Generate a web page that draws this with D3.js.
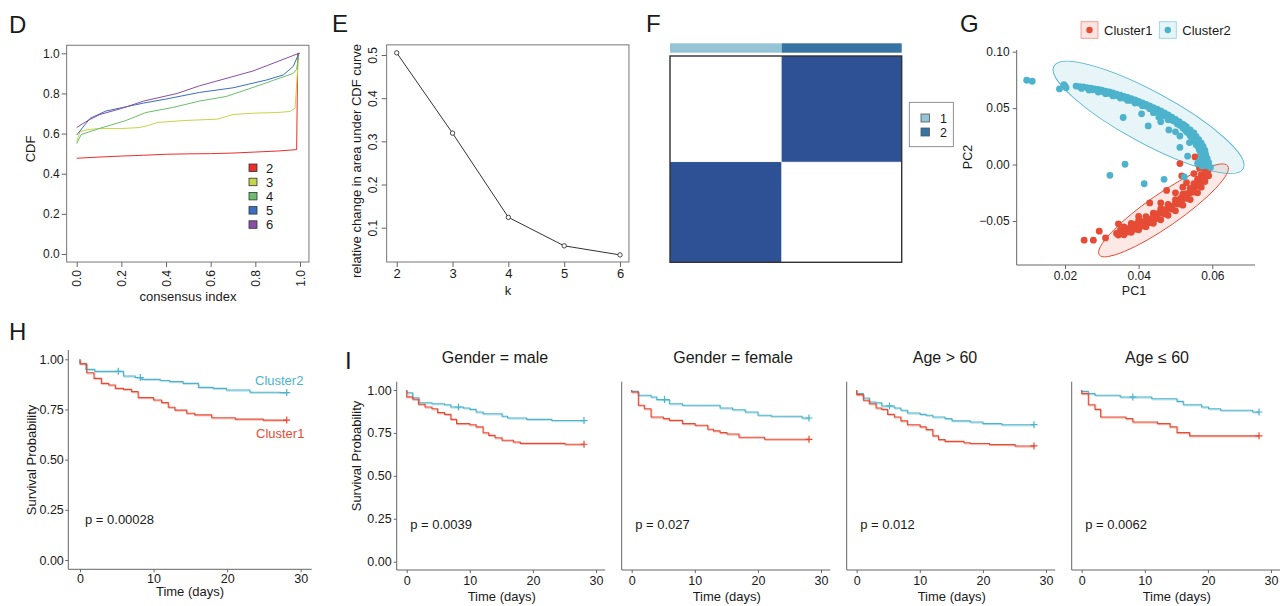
<!DOCTYPE html>
<html>
<head>
<meta charset="utf-8">
<script src="https://cdn.jsdelivr.net/npm/d3@7/dist/d3.min.js"></script>
<style>
  body { margin: 0; background: #fff; }
  svg { display: block; font-family: "Liberation Sans", Arial, Helvetica, sans-serif; }
</style>
</head>
<body>
<svg id="fig" width="1280" height="606"></svg>
<script>
// --- D: consensus CDF ---
const CDF_K = ['2', '3', '4', '5', '6'];
const CDF_COLORS = ['#EE2C2C', '#C5D548', '#6BBF6A', '#3B6DC0', '#8A4EA6'];
const CDF_2 = [[0, 0.477], [0.1, 0.483], [0.2, 0.488], [0.3, 0.492], [0.4, 0.497], [0.5, 0.499], [0.6, 0.5], [0.7, 0.503], [0.8, 0.508], [0.9, 0.513], [0.985, 0.52], [0.99, 1.0], [1.0, 1.0]];
const CDF_3 = [[0, 0.56], [0.015, 0.61], [0.05, 0.62], [0.1, 0.625], [0.2, 0.625], [0.28, 0.63], [0.32, 0.64], [0.36, 0.655], [0.48, 0.665], [0.63, 0.672], [0.7, 0.695], [0.8, 0.702], [0.9, 0.705], [0.955, 0.71], [0.978, 0.726], [0.99, 0.93], [0.995, 1.0]];
const CDF_4 = [[0, 0.55], [0.02, 0.595], [0.1, 0.625], [0.22, 0.665], [0.31, 0.705], [0.43, 0.73], [0.55, 0.762], [0.67, 0.785], [0.79, 0.83], [0.88, 0.865], [0.97, 0.9], [0.985, 0.92], [0.995, 1.0]];
const CDF_5 = [[0, 0.593], [0.06, 0.676], [0.13, 0.712], [0.3, 0.752], [0.4, 0.772], [0.55, 0.805], [0.7, 0.828], [0.85, 0.867], [0.925, 0.892], [0.97, 0.935], [0.995, 1.0]];
const CDF_6 = [[0, 0.63], [0.05, 0.665], [0.104, 0.695], [0.2, 0.725], [0.3, 0.762], [0.45, 0.8], [0.55, 0.838], [0.79, 0.912], [0.995, 1.0]];
const CDF_TICKS = [0, 0.2, 0.4, 0.6, 0.8, 1.0];

// --- E: delta area ---
const DELTA_K = [2, 3, 4, 5, 6];
const DELTA_AREA = [0.505, 0.319, 0.124, 0.058, 0.037];
const DELTA_YTICKS = [0.1, 0.2, 0.3, 0.4, 0.5];

// --- F: consensus matrix ---
const F_CLUSTERS = ['1', '2'];
const F_CLUSTER_COLORS = ['#94C4D6', '#3473A2'];
const F_COL_FRAC = [0.482, 0.518];
const F_ROW_FRAC = [0.514, 0.486];
const F_MATRIX = [[0, 1], [1, 0]];

// --- G: PCA ---
const G_GROUPS = ['Cluster1', 'Cluster2'];
const G_C1 = [
  [0.0252, -0.0670], [0.0277, -0.0670], [0.0293, -0.0590], [0.0310, -0.0650], [0.0512, 0.0009], [0.0553, 0.0068],
  [0.0517, -0.0101], [0.0476, -0.0229], [0.0400, -0.0460], [0.0345, -0.0525],
  [0.0340, -0.0610], [0.0350, -0.0600], [0.0360, -0.0590], [0.0370, -0.0580], [0.0380, -0.0565], [0.0390, -0.0550],
  [0.0400, -0.0538], [0.0410, -0.0522], [0.0420, -0.0505], [0.0430, -0.0490], [0.0440, -0.0470], [0.0450, -0.0450],
  [0.0460, -0.0430], [0.0470, -0.0410], [0.0480, -0.0390], [0.0490, -0.0370], [0.0500, -0.0350], [0.0510, -0.0330],
  [0.0520, -0.0302], [0.0530, -0.0278], [0.0540, -0.0250], [0.0550, -0.0220], [0.0560, -0.0188], [0.0570, -0.0150],
  [0.0575, -0.0120], [0.0580, -0.0090], [0.0585, -0.0060], [0.0590, -0.0030],
  [0.0360, -0.0552], [0.0380, -0.0522], [0.0400, -0.0495], [0.0420, -0.0462], [0.0440, -0.0430], [0.0460, -0.0392],
  [0.0480, -0.0352], [0.0500, -0.0310], [0.0520, -0.0262], [0.0540, -0.0212], [0.0550, -0.0170], [0.0560, -0.0130],
  [0.0570, -0.0090], [0.0580, -0.0050], [0.0565, -0.0030],
  [0.0360, -0.0622], [0.0380, -0.0600], [0.0400, -0.0578], [0.0420, -0.0550], [0.0440, -0.0520], [0.0460, -0.0490],
  [0.0480, -0.0450], [0.0500, -0.0410], [0.0520, -0.0360], [0.0540, -0.0310], [0.0560, -0.0250], [0.0570, -0.0200],
  [0.0580, -0.0150], [0.0590, -0.0100],
  [0.0350, -0.0580], [0.0365, -0.0565], [0.0380, -0.0545], [0.0395, -0.0525], [0.0410, -0.0505], [0.0425, -0.0482],
  [0.0440, -0.0455], [0.0455, -0.0430], [0.0470, -0.0400], [0.0485, -0.0372], [0.0500, -0.0335], [0.0515, -0.0298],
  [0.0530, -0.0258], [0.0545, -0.0218], [0.0560, -0.0170], [0.0572, -0.0125], [0.0582, -0.0075],
  [0.0345, -0.0625], [0.0370, -0.0598], [0.0390, -0.0572], [0.0410, -0.0545], [0.0430, -0.0515], [0.0450, -0.0478],
  [0.0470, -0.0438], [0.0490, -0.0395], [0.0510, -0.0350], [0.0530, -0.0300], [0.0550, -0.0245], [0.0565, -0.0190],
  [0.0578, -0.0130], [0.0588, -0.0070],
  [0.0430, -0.0340], [0.0460, -0.0340], [0.0500, -0.0250], [0.0530, -0.0160], [0.0550, -0.0080], [0.0520, -0.0200]
];
const G_C2 = [
  [0.0096, 0.0747], [0.0111, 0.0738], [0.0185, 0.0670], [0.0197, 0.0708], [0.0203, 0.0680], [0.0200, 0.0695],
  [0.0230, 0.0695], [0.0240, 0.0690], [0.0250, 0.0688], [0.0260, 0.0682], [0.0270, 0.0676], [0.0280, 0.0670],
  [0.0290, 0.0665], [0.0300, 0.0660], [0.0310, 0.0651], [0.0320, 0.0643], [0.0330, 0.0634], [0.0340, 0.0625],
  [0.0350, 0.0615], [0.0360, 0.0605], [0.0370, 0.0595], [0.0380, 0.0585], [0.0390, 0.0572], [0.0400, 0.0560],
  [0.0410, 0.0547], [0.0420, 0.0533], [0.0430, 0.0520], [0.0440, 0.0505], [0.0450, 0.0490], [0.0460, 0.0475],
  [0.0470, 0.0458], [0.0480, 0.0440], [0.0490, 0.0421], [0.0500, 0.0400], [0.0510, 0.0380], [0.0520, 0.0358],
  [0.0530, 0.0333], [0.0540, 0.0308], [0.0550, 0.0280], [0.0556, 0.0250], [0.0563, 0.0220], [0.0570, 0.0190],
  [0.0575, 0.0160], [0.0580, 0.0125], [0.0582, 0.0090], [0.0586, 0.0055], [0.0590, 0.0020], [0.0585, -0.0010],
  [0.0265, 0.0660], [0.0290, 0.0642], [0.0310, 0.0628], [0.0330, 0.0608], [0.0350, 0.0590], [0.0370, 0.0568],
  [0.0390, 0.0545], [0.0410, 0.0522], [0.0430, 0.0495], [0.0450, 0.0465], [0.0470, 0.0432], [0.0490, 0.0395],
  [0.0505, 0.0360], [0.0520, 0.0325], [0.0530, 0.0290], [0.0540, 0.0255], [0.0548, 0.0215], [0.0556, 0.0175],
  [0.0565, 0.0130], [0.0570, 0.0080], [0.0575, 0.0035], [0.0560, 0.0010], [0.0572, -0.0012],
  [0.0245, 0.0675], [0.0275, 0.0662], [0.0300, 0.0648], [0.0320, 0.0630], [0.0340, 0.0612], [0.0360, 0.0590],
  [0.0380, 0.0568], [0.0400, 0.0545], [0.0420, 0.0518], [0.0440, 0.0488], [0.0460, 0.0458], [0.0480, 0.0420],
  [0.0495, 0.0385], [0.0512, 0.0348], [0.0525, 0.0310], [0.0536, 0.0275], [0.0545, 0.0240], [0.0553, 0.0200],
  [0.0562, 0.0155], [0.0568, 0.0105], [0.0578, 0.0060], [0.0565, 0.0030], [0.0580, 0.0000],
  [0.0358, 0.0417], [0.0408, 0.0450], [0.0426, 0.0342], [0.0363, 0.0003], [0.0322, -0.0095], [0.0415, -0.0170],
  [0.0469, -0.0131], [0.0512, 0.0253], [0.0512, 0.0152], [0.0533, 0.0074], [0.0482, 0.0307], [0.0480, 0.0396],
  [0.0524, -0.0110], [0.0595, -0.0025], [0.0440, 0.0460], [0.0455, 0.0420], [0.0525, 0.0345], [0.0538, 0.0195],
  [0.0500, 0.0290], [0.0460, 0.0380]
];
// ellipse: ends of the long axis (PC1, PC2) and width / length ratio
const G_C1_ELLIPSE = [[0.0293, -0.0800], [0.0642, -0.0012]];
const G_C2_ELLIPSE = [[0.0170, 0.0872], [0.0684, -0.0036]];
const G_ELLIPSE_RATIO = [0.21, 0.24];
const G_XTICKS = [0.02, 0.04, 0.06];
const G_YTICKS = [-0.05, 0.00, 0.05, 0.10];

// --- H / I: Kaplan-Meier, [time, survival after that time] ---
const KM_XTICKS = [0, 10, 20, 30];
const KM_YTICKS = [0, 0.25, 0.5, 0.75, 1.0];
const KM_END = 28.1;
const H_C1 = [[0, 0.977], [0.9, 0.933], [1.9, 0.905], [2.9, 0.88], [3.9, 0.872], [4.8, 0.855], [5.9, 0.85], [7.0, 0.839], [7.9, 0.809], [10.0, 0.797], [11.1, 0.784], [12.0, 0.761], [12.9, 0.747], [14.5, 0.731], [15.6, 0.723], [17.9, 0.709], [21.1, 0.702], [24.9, 0.697]];
const H_C2 = [[0, 0.98], [0.8, 0.95], [2.0, 0.94], [5.9, 0.917], [7.5, 0.909], [8.4, 0.9], [10.9, 0.894], [12.2, 0.889], [14.0, 0.88], [16.1, 0.86], [18.1, 0.855], [19.9, 0.847], [23.1, 0.836], [27.2, 0.834]];
const H_C1_CENSOR = [28.1];
const H_C2_CENSOR = [5.2, 8.2, 28.1];
const H_P = 'p = 0.00028';

const I_TITLES = ['Gender = male', 'Gender = female', 'Age > 60', 'Age \u2264 60'];
const I_P = ['p = 0.0039', 'p = 0.027', 'p = 0.012', 'p = 0.0062'];
const I_C1 = [
  [[0, 0.96], [0.95, 0.946], [1.85, 0.917], [2.9, 0.901], [4.0, 0.891], [4.9, 0.868], [6.0, 0.858], [7.0, 0.829], [7.9, 0.804], [10.0, 0.798], [11.0, 0.785], [12.1, 0.751], [13.0, 0.736], [14.0, 0.722], [15.1, 0.707], [16.9, 0.697], [18.0, 0.689], [25.1, 0.684]],
  [[0, 0.988], [1.05, 0.911], [2.0, 0.891], [3.06, 0.843], [5.02, 0.833], [5.97, 0.823], [8.04, 0.804], [10.05, 0.795], [12.06, 0.771], [12.96, 0.762], [14.0, 0.752], [15.1, 0.744], [17.0, 0.725], [21.05, 0.713]],
  [[0, 0.973], [1.05, 0.94], [2.0, 0.92], [3.06, 0.895], [3.96, 0.887], [4.9, 0.858], [5.97, 0.843], [7.0, 0.82], [8.04, 0.798], [10.05, 0.785], [11.0, 0.769], [12.06, 0.733], [12.96, 0.711], [14.0, 0.701], [17.0, 0.693], [18.0, 0.688], [21.05, 0.682], [25.1, 0.674]],
  [[0, 0.979], [1.05, 0.914], [2.1, 0.887], [3.0, 0.843], [7.0, 0.833], [8.1, 0.814], [12.0, 0.804], [14.0, 0.785], [15.1, 0.752], [17.1, 0.733]]
];
const I_C2 = [
  [[0, 0.984], [0.95, 0.955], [1.95, 0.926], [4.0, 0.92], [6.0, 0.914], [7.0, 0.901], [9.0, 0.895], [10.0, 0.887], [11.0, 0.872], [12.1, 0.862], [15.1, 0.847], [16.0, 0.837], [19.0, 0.829], [23.0, 0.822]],
  [[0, 0.992], [1.05, 0.969], [3.06, 0.959], [3.96, 0.944], [5.97, 0.92], [8.04, 0.911], [14.0, 0.895], [16.0, 0.885], [18.0, 0.872], [20.0, 0.853], [22.1, 0.847], [27.0, 0.837]],
  [[0, 0.979], [1.05, 0.953], [2.0, 0.93], [3.06, 0.926], [3.96, 0.907], [5.97, 0.895], [7.0, 0.882], [8.04, 0.866], [10.05, 0.858], [11.0, 0.853], [12.06, 0.843], [14.0, 0.833], [15.1, 0.82], [18.0, 0.814], [20.0, 0.804], [23.0, 0.798]],
  [[0, 0.992], [1.05, 0.979], [2.1, 0.969], [6.1, 0.959], [11.1, 0.949], [15.1, 0.934], [16.1, 0.914], [19.0, 0.901], [20.1, 0.891], [22.0, 0.882], [27.1, 0.872]]
];
const I_C1_CENSOR = [[28.1], [28.1], [28.1], [28.1]];
const I_C2_CENSOR = [[8.2, 28.1], [5.2, 28.1], [5.2, 28.1], [8.1, 28.1]];

const C1 = '#E64B35';
const C2 = '#4DB3CC';
const INK = '#1a1a1a';
const AXIS = '#666';

const svg = d3.select('#fig');

// --- helpers ---

function text(g, x, y, s, size, opts = {}) {
  const t = g.append('text')
    .attr('x', x).attr('y', y)
    .attr('font-size', size)
    .attr('fill', opts.fill || INK)
    .attr('text-anchor', opts.anchor || 'start')
    .text(s);
  if (opts.rotate) t.attr('transform', `rotate(-90,${x},${y})`);
  return t;
}

function styleAxis(g, size) {
  g.select('.domain').remove();
  g.selectAll('.tick line').attr('stroke', AXIS);
  g.selectAll('.tick text').attr('fill', INK).attr('font-size', size).attr('font-family', null);
}

function panelLetter(x, y, s) {
  text(svg, x, y, s, 24);
}

function stepAt(steps, t) {
  let s = 1;
  steps.forEach(d => { if (d[0] <= t) s = d[1]; });
  return s;
}

function kmCurve(g, steps, censor, color, xs, ys) {
  const pts = [[0, 1]].concat(steps, [[KM_END, steps[steps.length - 1][1]]]);
  const line = d3.line().x(d => xs(d[0])).y(d => ys(d[1])).curve(d3.curveStepAfter);
  g.append('path').attr('d', line(pts)).attr('fill', 'none')
    .attr('stroke', color).attr('stroke-opacity', 0.35).attr('stroke-width', 1.4)
    .attr('transform', 'translate(0.8,1)');
  g.append('path').attr('d', line(pts)).attr('fill', 'none')
    .attr('stroke', color).attr('stroke-width', 1.1);
  censor.forEach(t => {
    const cx = xs(t), cy = ys(stepAt(steps, t));
    g.append('path').attr('d', `M${cx - 3.5},${cy}H${cx + 3.5}M${cx},${cy - 3.5}V${cy + 3.5}`)
      .attr('stroke', color).attr('stroke-width', 1.2);
  });
}

// --- D ---
(function drawD() {
  const g = svg.append('g');
  const x = d3.scaleLinear().domain([0, 1]).range([76.7, 300]);
  const y = d3.scaleLinear().domain([0, 1]).range([254, 53.3]);
  const x0 = x(-0.045), x1 = x(1.04), y0 = y(-0.04), y1 = y(1.04);

  const series = [CDF_2, CDF_3, CDF_4, CDF_5, CDF_6];
  const line = d3.line().x(d => x(d[0])).y(d => y(d[1]));
  series.forEach((s, i) => {
    g.append('path').attr('d', line(s)).attr('fill', 'none')
      .attr('stroke', CDF_COLORS[i]).attr('stroke-width', 1);
  });

  g.append('rect').attr('x', x0).attr('y', y1).attr('width', x1 - x0).attr('height', y0 - y1)
    .attr('fill', 'none').attr('stroke', '#777').attr('stroke-width', 1);

  g.append('g').attr('transform', `translate(${x0},0)`)
    .call(d3.axisLeft(y).tickValues(CDF_TICKS).tickFormat(d3.format('.1f')).tickSize(5).tickPadding(2))
    .call(a => styleAxis(a, 12));

  const ax = g.append('g').attr('transform', `translate(0,${y0})`)
    .call(d3.axisBottom(x).tickValues(CDF_TICKS).tickFormat(d3.format('.1f')).tickSize(5))
    .call(a => styleAxis(a, 12));
  ax.selectAll('.tick text').attr('transform', 'rotate(-90)').attr('text-anchor', 'end')
    .attr('x', -8).attr('y', 0).attr('dy', '0.35em');

  text(g, 188, 301, 'consensus index', 13, { anchor: 'middle' });
  text(g, 35, 149, 'CDF', 13, { anchor: 'middle', rotate: true });

  // legend
  CDF_K.forEach((k, i) => {
    const ly = 168 + i * 14.2;
    g.append('rect').attr('x', 249).attr('y', ly - 4).attr('width', 8).attr('height', 7.5)
      .attr('fill', CDF_COLORS[i]).attr('stroke', '#333').attr('stroke-width', 0.8);
    text(g, 266, ly + 4.5, k, 13);
  });
  panelLetter(9, 33, 'D');
})();

// --- E ---
(function drawE() {
  const g = svg.append('g');
  const x = d3.scaleLinear().domain([2, 6]).range([396.7, 620]);
  const y = d3.scaleLinear().domain([0.1, 0.5]).range([227.7, 55]);
  const x0 = x(1.82), x1 = x(6.16), y0 = y(0.0206), y1 = y(0.5235);
  const pts = DELTA_K.map((k, i) => [k, DELTA_AREA[i]]);

  g.append('path').attr('d', d3.line().x(d => x(d[0])).y(d => y(d[1]))(pts))
    .attr('fill', 'none').attr('stroke', '#333').attr('stroke-width', 1);
  g.selectAll('circle').data(pts).join('circle')
    .attr('cx', d => x(d[0])).attr('cy', d => y(d[1])).attr('r', 2.2)
    .attr('fill', '#fff').attr('stroke', '#333').attr('stroke-width', 0.9);

  g.append('rect').attr('x', x0).attr('y', y1).attr('width', x1 - x0).attr('height', y0 - y1)
    .attr('fill', 'none').attr('stroke', '#777').attr('stroke-width', 1);

  const ay = g.append('g').attr('transform', `translate(${x0},0)`)
    .call(d3.axisLeft(y).tickValues(DELTA_YTICKS).tickFormat(d3.format('.1f')).tickSize(5))
    .call(a => styleAxis(a, 12));
  ay.selectAll('.tick text').attr('transform', 'rotate(-90)').attr('text-anchor', 'middle')
    .attr('x', 0).attr('y', -9.5).attr('dy', 0);

  g.append('g').attr('transform', `translate(0,${y0})`)
    .call(d3.axisBottom(x).tickValues(DELTA_K).tickFormat(d3.format('d')).tickSize(5).tickPadding(2))
    .call(a => styleAxis(a, 13));

  text(g, 508, 295, 'k', 13, { anchor: 'middle' });
  text(g, 361, 161, 'relative change in area under CDF curve', 13, { anchor: 'middle', rotate: true });
  panelLetter(332, 32, 'E');
})();

// --- F ---
(function drawF() {
  const g = svg.append('g');
  const left = 670, right = 901.7, top = 56, bottom = 262.3;
  const colEdges = d3.cumsum([0].concat(F_COL_FRAC));
  const rowEdges = d3.cumsum([0].concat(F_ROW_FRAC));
  const x = d3.scaleLinear().domain([0, 1]).range([left, right]);
  const y = d3.scaleLinear().domain([0, 1]).range([top, bottom]);
  const fill = d3.scaleOrdinal().domain([0, 1]).range(['#ffffff', '#2E5196']);

  // annotation bar
  F_CLUSTERS.forEach((c, j) => {
    g.append('rect').attr('x', x(colEdges[j])).attr('y', 43.3)
      .attr('width', x(colEdges[j + 1]) - x(colEdges[j])).attr('height', 9.4)
      .attr('fill', F_CLUSTER_COLORS[j]);
  });

  F_MATRIX.forEach((row, i) => {
    row.forEach((v, j) => {
      g.append('rect')
        .attr('x', x(colEdges[j])).attr('y', y(rowEdges[i]))
        .attr('width', x(colEdges[j + 1]) - x(colEdges[j]))
        .attr('height', y(rowEdges[i + 1]) - y(rowEdges[i]))
        .attr('fill', fill(v)).attr('stroke', v ? 'none' : '#d8dcea').attr('stroke-width', 0.6);
    });
  });
  g.append('rect').attr('x', left).attr('y', top).attr('width', right - left).attr('height', bottom - top)
    .attr('fill', 'none').attr('stroke', '#333').attr('stroke-width', 1.4);

  // legend
  g.append('rect').attr('x', 909.3).attr('y', 102.3).attr('width', 44).attr('height', 44.4)
    .attr('fill', '#fff').attr('stroke', '#777').attr('stroke-width', 0.8);
  F_CLUSTERS.forEach((c, j) => {
    g.append('rect').attr('x', 921).attr('y', 114 + j * 14).attr('width', 8.5).attr('height', 8)
      .attr('fill', F_CLUSTER_COLORS[j]).attr('stroke', '#555').attr('stroke-width', 0.8);
    text(g, 940, 122.5 + j * 14, c, 12.5);
  });
  panelLetter(646, 32, 'F');
})();

// --- G ---
(function drawG() {
  const g = svg.append('g');
  const x = d3.scaleLinear().domain([0.02, 0.06]).range([1065, 1212.3]);
  const y = d3.scaleLinear().domain([-0.05, 0.10]).range([221, 51.7]);
  const colors = [C1, C2];
  const ellipses = [G_C1_ELLIPSE, G_C2_ELLIPSE];
  const groups = [G_C1, G_C2];

  ellipses.forEach((e, i) => {
    const xa = x(e[0][0]), ya = y(e[0][1]), xb = x(e[1][0]), yb = y(e[1][1]);
    const cx = (xa + xb) / 2, cy = (ya + yb) / 2;
    const rx = Math.hypot(xb - xa, yb - ya) / 2;
    const ang = Math.atan2(yb - ya, xb - xa) * 180 / Math.PI;
    g.append('ellipse').attr('cx', cx).attr('cy', cy).attr('rx', rx).attr('ry', rx * G_ELLIPSE_RATIO[i])
      .attr('transform', `rotate(${ang},${cx},${cy})`)
      .attr('fill', colors[i]).attr('fill-opacity', 0.13)
      .attr('stroke', colors[i]).attr('stroke-width', 0.9);
  });

  groups.forEach((pts, i) => {
    g.append('g').selectAll('circle').data(pts).join('circle')
      .attr('cx', d => x(d[0])).attr('cy', d => y(d[1])).attr('r', 3.4)
      .attr('fill', colors[i]);
  });

  g.append('path').attr('d', 'M1016.7,50V265H1255').attr('fill', 'none').attr('stroke', AXIS).attr('stroke-width', 1);
  g.append('g').attr('transform', 'translate(1016.7,0)')
    .call(d3.axisLeft(y).tickValues(G_YTICKS).tickFormat(d3.format('.2f')).tickSize(4).tickPadding(3))
    .call(a => styleAxis(a, 12));
  g.selectAll('.tick text').each(function () {
    const t = d3.select(this);
    t.text(t.text().replace('-', '\u2212'));
  });
  g.append('g').attr('transform', 'translate(0,265)')
    .call(d3.axisBottom(x).tickValues(G_XTICKS).tickFormat(d3.format('.2f')).tickSize(4).tickPadding(2))
    .call(a => styleAxis(a, 12));

  text(g, 1134, 295, 'PC1', 12.5, { anchor: 'middle' });
  text(g, 972, 157, 'PC2', 12.5, { anchor: 'middle', rotate: true });

  // legend
  const keyX = [1081, 1159.3];
  G_GROUPS.forEach((name, i) => {
    g.append('rect').attr('x', keyX[i]).attr('y', 21.7).attr('width', 17).attr('height', 16.6)
      .attr('fill', colors[i]).attr('fill-opacity', 0.15)
      .attr('stroke', colors[i]).attr('stroke-opacity', 0.6).attr('stroke-width', 0.8);
    g.append('circle').attr('cx', keyX[i] + 8.5).attr('cy', 30).attr('r', 3.2).attr('fill', colors[i]);
    text(g, keyX[i] + 23, 35, name, 13);
  });
  panelLetter(960, 32, 'G');
})();

// --- H ---
(function drawH() {
  const g = svg.append('g');
  const x = d3.scaleLinear().domain([0, 30]).range([80, 300.7]);
  const y = d3.scaleLinear().domain([0, 1]).range([560, 359.3]);

  kmCurve(g, H_C2, H_C2_CENSOR, C2, x, y);
  kmCurve(g, H_C1, H_C1_CENSOR, C1, x, y);

  g.append('path').attr('d', 'M68.3,350V569.3H311.7').attr('fill', 'none').attr('stroke', AXIS).attr('stroke-width', 1);
  g.append('g').attr('transform', 'translate(68.3,0)')
    .call(d3.axisLeft(y).tickValues(KM_YTICKS).tickFormat(d3.format('.2f')).tickSize(3).tickPadding(1.5))
    .call(a => styleAxis(a, 12.5));
  g.append('g').attr('transform', 'translate(0,569.3)')
    .call(d3.axisBottom(x).tickValues(KM_XTICKS).tickSize(3).tickPadding(2))
    .call(a => styleAxis(a, 12.5));

  text(g, 190, 596, 'Time (days)', 13, { anchor: 'middle' });
  text(g, 36, 460, 'Survival Probability', 13, { anchor: 'middle', rotate: true });
  text(g, 255, 384.5, 'Cluster2', 13, { fill: C2 });
  text(g, 256, 437.5, 'Cluster1', 13, { fill: C1 });
  text(g, 85, 524, H_P, 13);
  panelLetter(9, 340, 'H');
})();

// --- I ---
(function drawI() {
  const titleX = [495, 733, 945, 1157];
  I_TITLES.forEach((title, i) => {
    const g = svg.append('g');
    const t0 = 406.7 + i * 225;
    const x = d3.scaleLinear().domain([0, 30]).range([t0, t0 + 189.3]);
    const y = d3.scaleLinear().domain([0, 1]).range([561.7, 390]);
    const ax = t0 - 10;

    kmCurve(g, I_C2[i], I_C2_CENSOR[i], C2, x, y);
    kmCurve(g, I_C1[i], I_C1_CENSOR[i], C1, x, y);

    g.append('path').attr('d', `M${ax},381.7V570H${t0 + 198.5}`).attr('fill', 'none')
      .attr('stroke', AXIS).attr('stroke-width', 1);
    if (i === 0) {
      g.append('g').attr('transform', `translate(${ax},0)`)
        .call(d3.axisLeft(y).tickValues(KM_YTICKS).tickFormat(d3.format('.2f')).tickSize(3).tickPadding(2))
        .call(a => styleAxis(a, 12.5));
      text(g, 361, 456, 'Survival Probability', 13, { anchor: 'middle', rotate: true });
    }
    g.append('g').attr('transform', 'translate(0,570)')
      .call(d3.axisBottom(x).tickValues(KM_XTICKS).tickSize(3).tickPadding(3))
      .call(a => styleAxis(a, 12.5));

    text(g, t0 + 95, 601, 'Time (days)', 13, { anchor: 'middle' });
    text(g, titleX[i], 363, title, 16, { anchor: 'middle' });
    text(g, t0 + 3.5, 529, I_P[i], 13);
  });
  panelLetter(345, 369, 'I');
})();
</script>
</body>
</html>
